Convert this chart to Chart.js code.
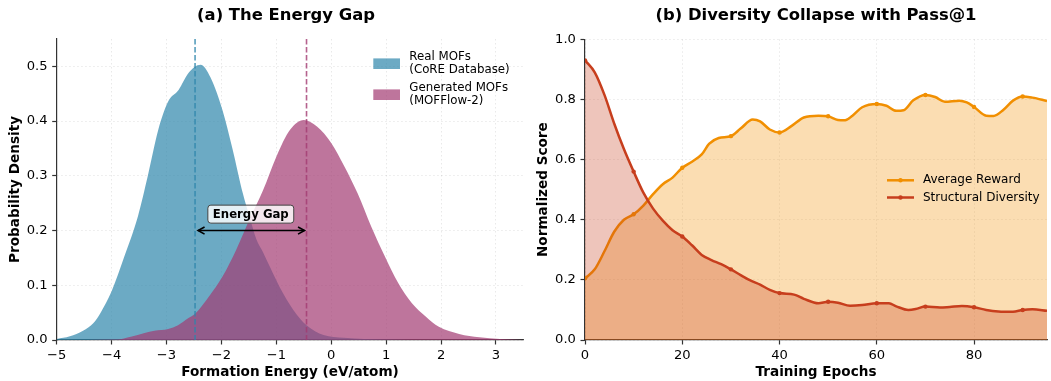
<!DOCTYPE html>
<html><head><meta charset="utf-8">
<script src="https://cdn.jsdelivr.net/npm/chart.js@4.4.0/dist/chart.umd.min.js"></script>
<style>
html,body{margin:0;padding:0;background:#fff;width:1051px;height:381px;overflow:hidden}
#c1{position:absolute;left:0;top:0}
#c2{position:absolute;left:530px;top:0}
</style></head><body>
<canvas id="c1" width="530" height="381"></canvas>
<canvas id="c2" width="521" height="381"></canvas>
<script>
// ---------- data: panel (a) ----------
const energyTicks = [-5, -4, -3, -2, -1, 0, 1, 2, 3];
const densityTicks = [0, 0.1, 0.2, 0.3, 0.4, 0.5];
const realEnergy  = [-5.0, -4.76, -4.52, -4.33, -4.2, -4.0, -3.77, -3.52, -3.34, -3.15, -2.97, -2.78, -2.6, -2.38, -2.2, -1.98, -1.8, -1.61, -1.49, -1.36, -1.24, -1.1, -0.94, -0.69, -0.45, -0.14, 0.23, 0.6, 1.0, 1.5, 3.5];
const realDensity = [0.002, 0.007, 0.017, 0.031, 0.05, 0.089, 0.152, 0.226, 0.30, 0.384, 0.436, 0.457, 0.488, 0.503, 0.48, 0.42, 0.35, 0.268, 0.226, 0.183, 0.16, 0.13, 0.097, 0.055, 0.027, 0.009, 0.004, 0.002, 0.001, 0.0, 0.0];
const genEnergy   = [-5.0, -3.9, -3.65, -3.4, -3.22, -2.97, -2.79, -2.6, -2.47, -2.23, -1.98, -1.73, -1.49, -1.24, -1.0, -0.75, -0.5, -0.26, 0.0, 0.24, 0.48, 0.73, 0.98, 1.22, 1.47, 1.72, 1.96, 2.33, 2.7, 3.07, 3.5];
const genDensity  = [0.0, 0.001, 0.006, 0.013, 0.017, 0.02, 0.027, 0.04, 0.049, 0.079, 0.116, 0.165, 0.22, 0.274, 0.335, 0.384, 0.402, 0.39, 0.36, 0.317, 0.268, 0.207, 0.152, 0.104, 0.067, 0.043, 0.024, 0.011, 0.005, 0.002, 0.0];
const meanEnergy  = [-2.48, -0.45];           // real, generated
const seriesLabelsA = [['Real MOFs', '(CoRE Database)'], ['Generated MOFs', '(MOFFlow-2)']];
const gapLabel = 'Energy Gap';
const gapArrowY = 0.2;
const gapLabelPos = [-1.465, 0.23];

// ---------- data: panel (b) ----------
const epochTicks = [0, 20, 40, 60, 80];
const scoreTicks = [0, 0.2, 0.4, 0.6, 0.8, 1.0];
const rewardEpochs = [0, 2, 4, 6, 8, 10, 12, 14, 16, 18, 20, 22, 24, 25.5, 27.5, 30, 32, 34.5, 36, 38, 40, 42.5, 45, 48, 50, 52, 53.5, 55, 57, 60, 62, 64, 65.5, 67.5, 70, 72, 74, 77, 78.5, 80, 82.5, 84, 86, 88, 90, 92, 95];
const rewardScore  = [0.205, 0.235, 0.295, 0.36, 0.40, 0.418, 0.447, 0.485, 0.518, 0.54, 0.573, 0.593, 0.617, 0.652, 0.672, 0.678, 0.703, 0.733, 0.727, 0.70, 0.69, 0.712, 0.74, 0.746, 0.744, 0.732, 0.731, 0.746, 0.774, 0.785, 0.779, 0.762, 0.764, 0.797, 0.815, 0.808, 0.792, 0.796, 0.79, 0.775, 0.746, 0.745, 0.765, 0.796, 0.81, 0.806, 0.795];
const diversityEpochs = [0, 2, 4, 6, 8, 10, 12, 14, 16, 18, 20, 22, 24, 26, 28, 30, 32, 34, 36, 38, 40, 43, 45, 48, 50, 52, 54.5, 57, 60, 62.5, 64, 66.5, 68, 70, 73, 75, 77.5, 80, 82.5, 85, 88, 90, 92, 95];
const diversityScore  = [0.93, 0.89, 0.815, 0.72, 0.635, 0.56, 0.49, 0.437, 0.397, 0.365, 0.344, 0.315, 0.283, 0.266, 0.252, 0.235, 0.216, 0.198, 0.184, 0.167, 0.156, 0.151, 0.137, 0.122, 0.127, 0.124, 0.114, 0.116, 0.122, 0.122, 0.112, 0.10, 0.103, 0.111, 0.108, 0.11, 0.113, 0.109, 0.10, 0.095, 0.094, 0.10, 0.102, 0.097];
const seriesLabelsB = ['Average Reward', 'Structural Diversity'];

// ---------- styles ----------
const FONT = 'DejaVu Sans';
Chart.defaults.font.family = FONT;
Chart.defaults.color = '#000';
const BLUE = '#2E86AB', MAG = '#A23B72', ORANGE = '#F18F01', RED = '#C73E1D';
const BLUE_F = 'rgba(46,134,171,0.7)', MAG_F = 'rgba(162,59,114,0.7)';
const ORANGE_F = 'rgba(241,143,1,0.3)', RED_F = 'rgba(199,62,29,0.3)';
const SPINE = '#333';

function pts(xs, ys) { return xs.map((x, i) => ({x: x, y: ys[i]})); }
function fmtMinus(v) { return v < 0 ? '\u2212' + Math.abs(v) : String(v); }

function axisX(ticks, min, max, title, fmt) {
  return {
    type: 'linear', min: min, max: max,
    afterBuildTicks: s => { s.ticks = ticks.map(v => ({value: v})); },
    afterFit: s => { s.height = 41; },
    ticks: {font: {size: 13.1}, padding: 3, color: '#000', maxRotation: 0, autoSkip: false, callback: fmt},
    grid: {color: 'rgba(0,0,0,0.11)', lineWidth: 0.8, drawTicks: true, tickLength: 4.5, tickColor: SPINE, tickWidth: 1.2, tickBorderDash: []},
    border: {display: true, color: SPINE, width: 1.2, dash: [1.5, 2.5]},
    title: {display: true, text: title, font: {size: 13.6, weight: 'bold'}, color: '#000', padding: {top: 0, bottom: 0}}
  };
}
function axisY(ticks, min, max, title, width, tpad) {
  return {
    type: 'linear', min: min, max: max,
    afterBuildTicks: s => { s.ticks = ticks.map(v => ({value: v})); },
    afterFit: s => { s.width = width; },
    ticks: {font: {size: 13.1}, padding: 4.6, color: '#000', autoSkip: false, callback: v => v.toFixed(1)},
    grid: {color: 'rgba(0,0,0,0.11)', lineWidth: 0.8, drawTicks: true, tickLength: 4.5, tickColor: SPINE, tickWidth: 1.2, tickBorderDash: []},
    border: {display: true, color: SPINE, width: 1.2, dash: [1.5, 2.5]},
    title: {display: true, text: title, font: {size: 13.6, weight: 'bold'}, color: '#000', padding: {top: tpad, bottom: 0}}
  };
}
function titlePlugin(text, dx) {
  return {id: 'ptitle', afterDraw(chart) {
    const {ctx, chartArea: a} = chart;
    ctx.save();
    ctx.font = 'bold 16.4px "' + FONT + '"';
    ctx.fillStyle = '#000'; ctx.textAlign = 'center'; ctx.textBaseline = 'middle';
    ctx.fillText(text, (a.left + a.right) / 2 + dx, 16);
    ctx.restore();
  }};
}

// ---------- panel (a) ----------
const plugA = {
  id: 'annotA',
  afterDatasetsDraw(chart) {
    const {ctx, chartArea: a, scales: {x, y}} = chart;
    ctx.save();
    // mean lines
    [BLUE, MAG].forEach((c, i) => {
      const px = x.getPixelForValue(meanEnergy[i]);
      ctx.strokeStyle = c; ctx.globalAlpha = 0.8; ctx.lineWidth = 1.6; ctx.setLineDash([5.5, 2.5]);
      ctx.beginPath(); ctx.moveTo(px, a.top); ctx.lineTo(px, a.bottom); ctx.stroke();
    });
    ctx.globalAlpha = 1; ctx.setLineDash([]);
    // arrow
    const x1 = x.getPixelForValue(meanEnergy[0]) + 3, x2 = x.getPixelForValue(meanEnergy[1]) - 2;
    const py = y.getPixelForValue(gapArrowY);
    ctx.strokeStyle = '#000'; ctx.lineWidth = 1.6;
    ctx.beginPath(); ctx.moveTo(x1, py); ctx.lineTo(x2, py); ctx.stroke();
    ctx.beginPath();
    ctx.moveTo(x1 + 6.5, py - 3.6); ctx.lineTo(x1, py); ctx.lineTo(x1 + 6.5, py + 3.6);
    ctx.moveTo(x2 - 6.5, py - 3.6); ctx.lineTo(x2, py); ctx.lineTo(x2 - 6.5, py + 3.6);
    ctx.stroke();
    // label box
    ctx.font = 'bold 11.7px "' + FONT + '"';
    const tw = ctx.measureText(gapLabel).width;
    const cx = x.getPixelForValue(gapLabelPos[0]), cy = y.getPixelForValue(gapLabelPos[1]);
    const bw = tw + 10, bh = 18;
    ctx.beginPath();
    ctx.roundRect(cx - bw / 2, cy - bh / 2, bw, bh, 3);
    ctx.fillStyle = 'rgba(255,255,255,0.82)'; ctx.fill();
    ctx.strokeStyle = '#444'; ctx.lineWidth = 1; ctx.stroke();
    ctx.fillStyle = '#000'; ctx.textAlign = 'center'; ctx.textBaseline = 'middle';
    ctx.fillText(gapLabel, cx, cy + 0.5);
    ctx.restore();
  },
  afterDraw(chart) {
    const {ctx} = chart;
    ctx.save();
    ctx.font = '11.8px "' + FONT + '"';
    ctx.textBaseline = 'middle'; ctx.textAlign = 'left'; ctx.fillStyle = '#000';
    const fills = [BLUE_F, MAG_F];
    const patchY = [63.7, 94.7];
    seriesLabelsA.forEach((lines, i) => {
      ctx.fillStyle = fills[i];
      ctx.fillRect(373.3, patchY[i] - 5.3, 26.7, 10.6);
      ctx.fillStyle = '#000';
      lines.forEach((t, j) => ctx.fillText(t, 409.3, patchY[i] - 6.6 + j * 13.2));
    });
    ctx.restore();
  }
};

new Chart(document.getElementById('c1'), {
  type: 'line',
  data: {datasets: [
    {label: seriesLabelsA[0].join(' '), data: pts(realEnergy, realDensity), fill: 'origin', backgroundColor: BLUE_F,
     borderColor: 'rgba(0,0,0,0)', borderWidth: 0, pointRadius: 0, cubicInterpolationMode: 'monotone', order: 2},
    {label: seriesLabelsA[1].join(' '), data: pts(genEnergy, genDensity), fill: 'origin', backgroundColor: MAG_F,
     borderColor: 'rgba(0,0,0,0)', borderWidth: 0, pointRadius: 0, cubicInterpolationMode: 'monotone', order: 1}
  ]},
  options: {
    responsive: false, animation: false, devicePixelRatio: 1,
    layout: {padding: {top: 39, right: 6.6, left: 0, bottom: 0}},
    plugins: {legend: {display: false}, title: {display: false}, tooltip: {enabled: false}},
    scales: {
      x: axisX(energyTicks, -5, 3.5, 'Formation Energy (eV/atom)', fmtMinus),
      y: axisY(densityTicks, 0, 0.55, 'Probability Density', 56.7, 7)
    }
  },
  plugins: [plugA, titlePlugin('(a) The Energy Gap', -4)]
});

// ---------- panel (b) ----------
const isMark = (xs) => (c) => (xs[c.dataIndex] % 10 === 0 ? 2.2 : 0);
const plugB = {
  id: 'legendB',
  afterDraw(chart) {
    const {ctx} = chart;
    ctx.save();
    const cols = [ORANGE, RED], ys = [180.3, 197.5];
    ctx.font = '12px "' + FONT + '"';
    ctx.textBaseline = 'middle'; ctx.textAlign = 'left';
    seriesLabelsB.forEach((t, i) => {
      ctx.strokeStyle = cols[i]; ctx.lineWidth = 2.5;
      ctx.beginPath(); ctx.moveTo(357, ys[i]); ctx.lineTo(384, ys[i]); ctx.stroke();
      ctx.fillStyle = cols[i]; ctx.beginPath(); ctx.arc(370.5, ys[i], 2.2, 0, Math.PI * 2); ctx.fill();
      ctx.fillStyle = '#000'; ctx.fillText(t, 393, ys[i]);
    });
    ctx.restore();
  }
};

new Chart(document.getElementById('c2'), {
  type: 'line',
  data: {datasets: [
    {label: seriesLabelsB[0], data: pts(rewardEpochs, rewardScore), fill: 'origin', backgroundColor: ORANGE_F,
     borderColor: ORANGE, borderWidth: 2.5, pointRadius: isMark(rewardEpochs), pointBackgroundColor: ORANGE,
     pointBorderWidth: 0, cubicInterpolationMode: 'monotone', order: 2},
    {label: seriesLabelsB[1], data: pts(diversityEpochs, diversityScore), fill: 'origin', backgroundColor: RED_F,
     borderColor: RED, borderWidth: 2.5, pointRadius: isMark(diversityEpochs), pointBackgroundColor: RED,
     pointBorderWidth: 0, cubicInterpolationMode: 'monotone', order: 1}
  ]},
  options: {
    responsive: false, animation: false, devicePixelRatio: 1,
    layout: {padding: {top: 39.3, right: 0, left: 0, bottom: 0}},
    plugins: {legend: {display: false}, title: {display: false}, tooltip: {enabled: false}},
    scales: {
      x: axisX(epochTicks, 0, 95, 'Training Epochs', v => String(v)),
      y: axisY(scoreTicks, 0, 1.0, 'Normalized Score', 55, 5.6)
    }
  },
  plugins: [plugB, titlePlugin('(b) Diversity Collapse with Pass@1', 0)]
});
</script>
</body></html>
